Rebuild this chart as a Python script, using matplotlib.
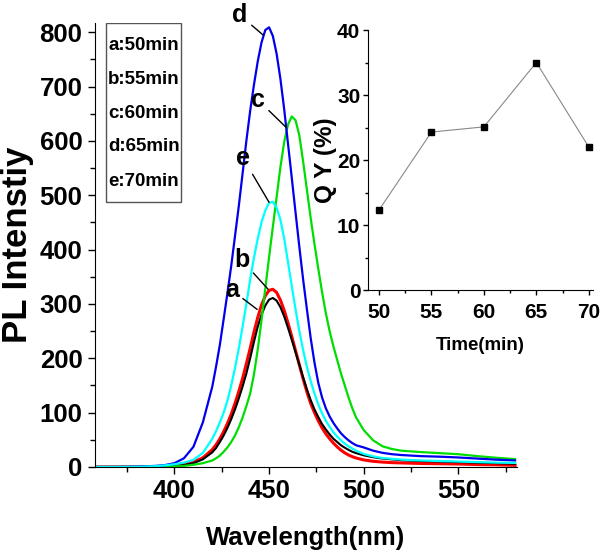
import matplotlib
matplotlib.use("Agg")
import matplotlib.pyplot as plt
from matplotlib.ticker import MultipleLocator
from matplotlib.patches import Rectangle

plt.rcParams["font.family"] = ["Liberation Sans", "DejaVu Sans"]
plt.rcParams["font.weight"] = "bold"

# PL spectra (nm, a.u.)
wavelength = [358, 370, 380, 390, 395, 400, 405, 410, 415,
              420, 422, 424, 426, 428, 430, 432, 434, 436, 438,
              440, 442, 444, 446, 448, 450, 452, 454, 456, 458,
              460, 462, 464, 466, 468, 470, 472, 474, 476, 478,
              480, 482, 484, 486, 488, 490, 492, 494, 496,
              500, 505, 510, 515, 520, 530, 540, 550, 560, 570, 580]
pl_a = [0, 0, 0.1, 0.4, 0.8, 1.6, 3.5, 7, 14,
        27, 35, 46, 58, 72, 88, 106, 126, 148, 172,
        200, 230, 258, 280, 297, 308, 311, 306, 294, 277,
        256, 234, 211, 188, 165, 143, 123, 106, 92, 79,
        69, 60, 52, 46, 40, 35.5, 31.5, 28, 25.5,
        21.5, 18, 15.5, 14, 12.5, 11, 10, 9, 8, 7, 6]
pl_b = [0, 0, 0.1, 0.5, 1, 2, 4.5, 9, 17,
        32, 41, 52, 65, 80, 97, 117, 139, 163, 190,
        218, 248, 275, 298, 315, 325, 327, 321, 307, 288,
        265, 240, 214, 188, 162, 138, 117, 100, 85, 72,
        61, 52, 44, 37, 31, 26, 22, 19, 16.5,
        13, 10.5, 9, 8, 7.5, 6.5, 6, 5.5, 4.5, 4, 3]
pl_c = [0, 0, 0, 0.2, 0.5, 1, 2, 4, 7,
        12, 16, 21, 28, 36, 46, 58, 73, 91, 112,
        135, 170, 216, 270, 328, 386, 442, 497, 552, 598,
        630, 645, 638, 610, 562, 510, 458, 410, 365, 322,
        283, 250, 222, 197, 172, 150, 128, 108, 91,
        68, 49, 38, 33, 30, 27.5, 25.5, 23.5, 20, 17, 14.5]
pl_d = [0, 0.2, 0.6, 2, 3.5, 7, 16, 37, 82,
        148, 185, 225, 272, 320, 370, 425, 480, 540, 600,
        655, 703, 746, 781, 804, 809, 793, 760, 714, 658,
        595, 532, 468, 405, 345, 290, 237, 192, 155, 128,
        108, 93, 81, 71, 62, 55, 49, 44, 40,
        36, 30, 26, 23.5, 22, 20, 19, 17.5, 15.5, 13.5, 12]
pl_e = [0, 0.1, 0.4, 1.5, 3, 5, 8, 13, 26,
        52, 66, 82, 100, 122, 150, 182, 218, 258, 300,
        345, 385, 420, 450, 472, 486, 488, 477, 455, 420,
        377, 333, 290, 250, 215, 184, 158, 135, 115, 99,
        85, 74, 64, 56, 49, 43, 38, 34, 30,
        24, 19.5, 16.5, 15, 13.5, 12, 11, 10, 9, 8, 7.5]

series_keys = ["a", "b", "c", "d", "e"]
series_colors = ["black", "red", "#00dd00", "#0000ee", "cyan"]
legend_lines = ["a:50min", "b:55min", "c:60min", "d:65min", "e:70min"]

# quantum yield inset
time_min = [50, 55, 60, 65, 70]
qy = [12.3, 24.3, 25.1, 35.0, 22.0]

fig = plt.figure(figsize=(6, 5.59), dpi=100)
ax = fig.add_axes([0.1583, 0.1646, 0.7033, 0.7943])

spectra = [pl_a, pl_b, pl_c, pl_d, pl_e]
widths = [1.5, 2.2, 1.6, 1.6, 1.6]
for i in [1, 0, 2, 3, 4]:
    ax.plot(wavelength, spectra[i], color=series_colors[i], lw=widths[i],
            solid_joinstyle="round")

ax.set_xlim(358, 581)
ax.set_ylim(0, 817)
ax.set_xticks([400, 450, 500, 550])
ax.xaxis.set_minor_locator(MultipleLocator(25))
ax.yaxis.set_major_locator(MultipleLocator(100))
ax.yaxis.set_minor_locator(MultipleLocator(50))
for s in ["top", "right"]:
    ax.spines[s].set_visible(False)
ax.tick_params(which="major", direction="out", length=5, width=1, labelsize=18.5, pad=4)
ax.tick_params(which="minor", direction="out", length=3.5, width=1)
ax.set_xlabel("Wavelength(nm)", fontsize=18.5, fontweight="bold", labelpad=16)
ax.set_ylabel("PL Intenstiy", fontsize=25, fontweight="bold", labelpad=4)

# curve labels: text position, point on the curve
labels_pos = {
    "d": ((434.7, 831), (446.8, 795)),
    "c": ((444.2, 675), (459.0, 625)),
    "e": ((436.3, 568), (450.0, 487)),
    "b": ((435.7, 380), (449.5, 327)),
    "a": ((430.4, 325), (443.7, 290)),
}
for k in series_keys:
    txt, pt = labels_pos[k]
    ax.annotate(k, xy=pt, xytext=txt, fontsize=18, fontweight="bold",
                ha="center", va="center", annotation_clip=False,
                arrowprops=dict(arrowstyle="-", color="black", lw=1,
                                shrinkA=1, shrinkB=0))

# legend box with the reaction times
ax.add_patch(Rectangle((0.026, 0.597), 0.178, 0.403, transform=ax.transAxes,
                       fc="white", ec="#555555", lw=1, zorder=5))
legend_y = [0.950, 0.872, 0.797, 0.721, 0.644]
for line, yy in zip(legend_lines, legend_y):
    ax.text(0.031, yy, line, transform=ax.transAxes, fontsize=13.5,
            fontweight="bold", ha="left", va="center", zorder=6)

# inset
ins = fig.add_axes([0.6133, 0.4812, 0.375, 0.4651])
ins.plot(time_min, qy, color="#888888", lw=0.8, marker="s", ms=4.5,
         mfc="black", mec="black")
ins.set_xlim(48.95, 70.4)
ins.set_ylim(0, 40)
ins.xaxis.set_major_locator(MultipleLocator(5))
ins.xaxis.set_minor_locator(MultipleLocator(2.5))
ins.yaxis.set_major_locator(MultipleLocator(10))
ins.yaxis.set_minor_locator(MultipleLocator(5))
for s in ["top", "right"]:
    ins.spines[s].set_visible(False)
ins.tick_params(which="major", direction="out", length=3.5, width=1, labelsize=15, pad=2)
ins.tick_params(which="minor", direction="out", length=2.5, width=1)
ins.tick_params(axis="x", pad=6)
ins.set_xlabel("Time(min)", fontsize=13.5, fontweight="bold", labelpad=11)
ins.set_ylabel("Q Y (%)", fontsize=17.5, fontweight="bold", labelpad=0)

fig.savefig("out.png", dpi=100)
